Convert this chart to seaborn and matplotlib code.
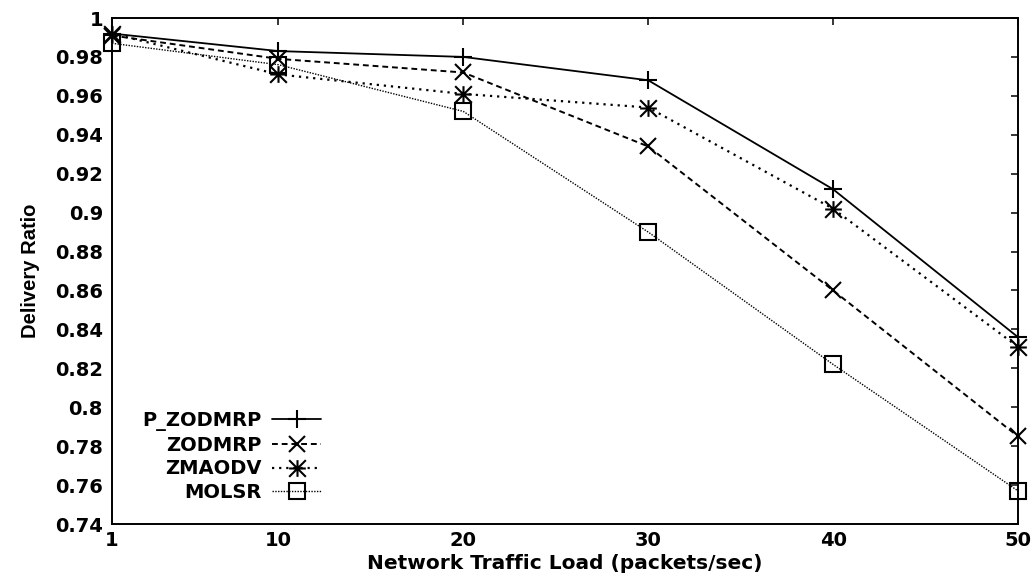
import matplotlib
matplotlib.use("Agg")
import matplotlib.pyplot as plt
import seaborn as sns
import numpy as np
from matplotlib.path import Path

# ---- data ----
load = [1, 10, 20, 30, 40, 50]
p_zodmrp = [0.992, 0.983, 0.980, 0.968, 0.912, 0.836]
zodmrp = [0.991, 0.979, 0.972, 0.934, 0.860, 0.785]
zmaodv = [0.992, 0.971, 0.961, 0.954, 0.902, 0.831]
molsr = [0.987, 0.976, 0.952, 0.890, 0.822, 0.757]
series_names = ["P_ZODMRP", "ZODMRP", "ZMAODV", "MOLSR"]
yticks = [0.74, 0.76, 0.78, 0.8, 0.82, 0.84, 0.86, 0.88, 0.9, 0.92, 0.94, 0.96, 0.98, 1.0]
ytick_labels = ["0.74", "0.76", "0.78", "0.8", "0.82", "0.84", "0.86", "0.88", "0.9",
                "0.92", "0.94", "0.96", "0.98", "1"]

sns.set_theme(style="white")
plt.rcParams['font.family'] = ['DejaVu Sans']
plt.rcParams['font.weight'] = 'bold'
plt.rcParams['text.color'] = 'black'
plt.rcParams['axes.labelcolor'] = 'black'

fig = plt.figure(figsize=(10.35, 5.79), dpi=100)
ax = fig.add_axes([112/1035, 1-524/579, (1018-112)/1035, (524-18)/579])

# asterisk marker: + overlaid with x (gnuplot style)
ast = Path([(-1, 0), (1, 0), (0, -1), (0, 1),
            (-1, -1), (1, 1), (-1, 1), (1, -1)],
           [Path.MOVETO, Path.LINETO, Path.MOVETO, Path.LINETO,
            Path.MOVETO, Path.LINETO, Path.MOVETO, Path.LINETO])

styles = [
    dict(linestyle='-', marker='+', lw=1.3, ms=13),
    dict(linestyle=(0, (3, 2)), marker='x', lw=1.4, ms=12),
    dict(linestyle=(0, (1, 2.2)), marker=ast, lw=1.6, ms=12),
    dict(linestyle=(0, (1, 1)), marker='s', lw=1.0, ms=11.5),
]
values = [p_zodmrp, zodmrp, zmaodv, molsr]
for name, vals, st in zip(series_names, values, styles):
    sns.lineplot(x=load, y=vals, ax=ax, color='black', label=name,
                 linestyle=st['linestyle'], lw=st['lw'], marker=st['marker'],
                 markersize=st['ms'], markeredgewidth=1.5, markerfacecolor='none',
                 markeredgecolor='black', clip_on=False)

ax.set_xlim(1, 50)
ax.set_ylim(0.74, 1.0)
ax.set_xticks(load)
ax.set_xticklabels([str(v) for v in load])
ax.set_yticks(yticks)
ax.set_yticklabels(ytick_labels)
ax.tick_params(direction='in', length=5, width=1.1, top=True, right=True,
               labelsize=14, colors='black')
ax.tick_params(axis='y', pad=6.5)
ax.tick_params(axis='x', pad=5)
for lab in ax.get_xticklabels() + ax.get_yticklabels():
    lab.set_fontweight('bold')
for sp in ax.spines.values():
    sp.set_linewidth(1.4)
    sp.set_color('black')
ax.set_xlabel("Network Traffic Load (packets/sec)", fontsize=14.5, fontweight='bold',
              labelpad=3, color='black')
ax.set_ylabel("Delivery Ratio", fontsize=14.5, fontweight='bold', labelpad=11,
              family=['Liberation Sans', 'DejaVu Sans'], color='black')
ax.grid(False)

leg = ax.legend(loc='center right', bbox_to_anchor=(321/1035, 1-456.5/579),
                bbox_transform=fig.transFigure, frameon=False, markerfirst=False,
                fontsize=14, handlelength=2.5, handletextpad=0.57, labelspacing=0.25,
                borderpad=0, borderaxespad=0)
for t in leg.get_texts():
    t.set_fontweight('bold')
    t.set_color('black')

fig.savefig("out.png", dpi=100)
